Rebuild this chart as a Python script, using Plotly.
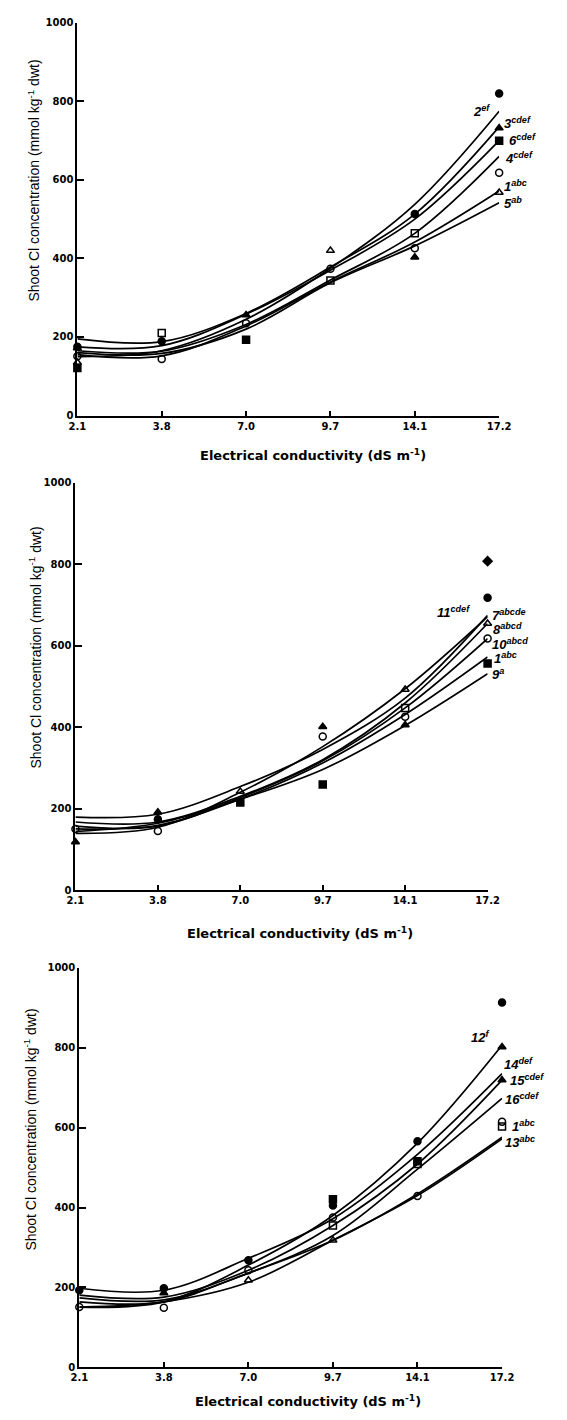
import plotly.graph_objects as go

W, H = 567, 1420

# ---------------- data ----------------
ec_labels = ["2.1", "3.8", "7.0", "9.7", "14.1", "17.2"]
y_ticks = [0, 200, 400, 600, 800, 1000]

# Panel 1 fitted curves (value at each EC level)
p1_curves = {
    "2": [150, 165, 245, 375, 538, 775],
    "3": [195, 188, 260, 378, 513, 735],
    "6": [175, 178, 258, 370, 500, 700],
    "4": [165, 164, 232, 345, 464, 660],
    "1": [155, 152, 228, 340, 442, 572],
    "5": [160, 158, 220, 338, 432, 542],
}
p1_labels = {"2": "ef", "3": "cdef", "6": "cdef", "4": "cdef", "1": "abc", "5": "ab"}
p1_points = [
    ("circle", [175, 189, None, None, 513, 820]),
    ("triangle-up", [172, None, 256, None, 403, 732]),
    ("square", [121, None, 193, None, None, 700]),
    ("square-open", [None, 210, None, 344, 464, None]),
    ("circle-open", [151, 144, 235, 374, 426, 618]),
    ("triangle-up-open", [135, None, None, 420, None, 568]),
]

# Panel 2
p2_curves = {
    "11": [140, 155, 241, 353, 495, 672],
    "7": [180, 187, 255, 346, 472, 675],
    "8": [168, 168, 231, 321, 460, 655],
    "10": [158, 158, 228, 318, 448, 618],
    "1": [151, 160, 224, 313, 432, 573],
    "9": [145, 165, 224, 297, 405, 532],
}
p2_labels = {"11": "cdef", "7": "abcde", "8": "abcd", "10": "abcd", "1": "abc", "9": "a"}
p2_points = [
    ("diamond", [None, None, None, None, None, 808]),
    ("circle", [None, 175, None, None, None, 718]),
    ("triangle-up-open", [None, None, 243, None, 493, 655]),
    ("triangle-up", [119, 192, None, 402, 406, None]),
    ("circle-open", [151, 146, None, 378, 426, 618]),
    ("square-open", [None, None, None, None, 448, None]),
    ("square", [None, None, 216, 260, None, 557]),
]

# Panel 3
p3_curves = {
    "12": [151, 164, 256, 380, 561, 806],
    "14": [198, 193, 273, 372, 533, 735],
    "15": [181, 176, 243, 355, 509, 719],
    "16": [174, 169, 236, 330, 496, 673],
    "1": [164, 164, 236, 318, 434, 576],
    "13": [151, 164, 213, 318, 430, 572],
}
p3_labels = {"12": "f", "14": "def", "15": "cdef", "16": "cdef", "1": "abc", "13": "abc"}
p3_points = [
    ("circle", [193, 198, 268, 405, 566, 913]),
    ("triangle-up", [None, 186, None, None, None, 802]),
    ("triangle-up", [None, None, None, None, None, 719]),
    ("square", [None, None, None, 421, 516, None]),
    ("square-open", [None, None, None, 355, 509, 603]),
    ("circle-open", [151, 149, 243, 375, 429, 615]),
    ("triangle-up-open", [None, None, 218, 318, None, None]),
]

# ---------------- layout helpers (pixel positions) ----------------
panels = [
    dict(curves=p1_curves, labels=p1_labels, points=p1_points,
         box=(71, 509, 17, 413),
         lab_pos={"2": (480, 106), "3": (512, 118), "6": (517, 135), "4": (513, 153), "1": (512, 182), "5": (512, 199)},
         xtitle=(316, 453), ytitle=(25, 176)),
    dict(curves=p2_curves, labels=p2_labels, points=p2_points,
         box=(69, 497, 481, 892),
         lab_pos={"11": (442, 611), "7": (500, 614), "8": (501, 628), "10": (499, 643), "1": (502, 658), "9": (500, 674)},
         xtitle=(302, 935), ytitle=(27, 647)),
    dict(curves=p3_curves, labels=p3_labels, points=p3_points,
         box=(73, 512, 970, 1373),
         lab_pos={"12": (478, 1040), "14": (512, 1067), "15": (518, 1083), "16": (513, 1102), "1": (520, 1130), "13": (513, 1146)},
         xtitle=(311, 1407), ytitle=(22, 1133)),
]


def px(x):
    return x / W


def py(y):
    return 1 - y / H


fig = go.Figure()
xs = list(range(len(ec_labels)))
annotations = []
LINE = "black"

for i, p in enumerate(panels, start=1):
    xa = "x" if i == 1 else f"x{i}"
    ya = "y" if i == 1 else f"y{i}"
    for name, vals in p["curves"].items():
        fig.add_trace(go.Scatter(x=xs, y=vals, mode="lines", xaxis=xa, yaxis=ya,
                                 line=dict(color=LINE, width=1.7, shape="spline", smoothing=1.0),
                                 hoverinfo="skip"))
    for sym, vals in p["points"]:
        fig.add_trace(go.Scatter(x=xs, y=vals, mode="markers", xaxis=xa, yaxis=ya,
                                 cliponaxis=False,
                                 marker=dict(symbol=sym, size=7, color=LINE,
                                             line=dict(color=LINE, width=1.5))))
    x0, x1, yt, yb = p["box"]
    xkey = "xaxis" if i == 1 else f"xaxis{i}"
    ykey = "yaxis" if i == 1 else f"yaxis{i}"
    fig.update_layout(**{
        xkey: dict(domain=[px(x0), px(x1)], anchor=ya, range=[0, 5],
                   tickmode="array", tickvals=xs, ticktext=ec_labels,
                   showline=True, linecolor=LINE, linewidth=2,
                   ticks="inside", ticklen=5, tickwidth=1.5, tickcolor=LINE,
                   showgrid=False, zeroline=False,
                   tickfont=dict(family="DejaVu Sans", size=10, color=LINE, weight="bold")),
        ykey: dict(domain=[py(yb), py(yt)], anchor=xa, range=[0, 1000],
                   tickmode="array", tickvals=y_ticks,
                   showline=True, linecolor=LINE, linewidth=2,
                   ticks="inside", ticklen=7, tickwidth=1.5, tickcolor=LINE,
                   showgrid=False, zeroline=False,
                   tickfont=dict(family="DejaVu Sans", size=10, color=LINE, weight="bold")),
    })
    for name, (lx, ly) in p["lab_pos"].items():
        annotations.append(dict(
            x=px(lx), y=py(ly), xref="paper", yref="paper", xanchor="left", yanchor="middle",
            showarrow=False,
            text=f"<b><i>{name}<sup>{p['labels'][name]}</sup></i></b>",
            font=dict(family="Liberation Sans", size=13, color=LINE)))
    tx, ty = p["xtitle"]
    annotations.append(dict(
        x=px(tx), y=py(ty), xref="paper", yref="paper", xanchor="center", yanchor="middle",
        showarrow=False, text="Electrical conductivity (dS m<sup>-1</sup>)",
        font=dict(family="DejaVu Sans", size=13, color=LINE, weight="bold")))
    vx, vy = p["ytitle"]
    annotations.append(dict(
        x=px(vx), y=py(vy), xref="paper", yref="paper", xanchor="center", yanchor="middle",
        showarrow=False, textangle=-90,
        text="Shoot Cl concentration (mmol kg<sup>-1</sup> dwt)",
        font=dict(family="Liberation Sans Narrow, Liberation Sans", size=14, color=LINE)))

fig.update_layout(width=W, height=H, margin=dict(l=0, r=0, t=0, b=0),
                  paper_bgcolor="white", plot_bgcolor="white", showlegend=False,
                  annotations=annotations)

fig.write_html("out.html")
